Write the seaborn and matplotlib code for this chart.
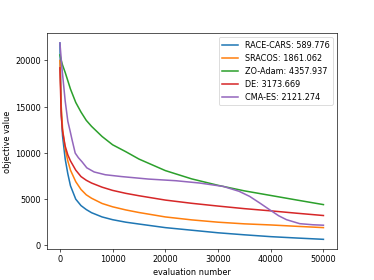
import matplotlib
matplotlib.use("Agg")
import matplotlib.pyplot as plt
import pandas as pd
import seaborn as sns

# shared evaluation grid for the smooth curves
evals = [0, 250, 500, 1000, 1500, 2000, 3000, 4000, 5000, 6000, 8000, 10000,
         12500, 15000, 20000, 25000, 30000, 35000, 40000, 45000, 50000]

race_cars = [21900, 14500, 11800, 9300, 7700, 6400, 4950, 4250, 3820, 3480, 3020, 2720,
             2450, 2250, 1860, 1580, 1300, 1080, 880, 730, 589.776]
sracos = [20000, 15000, 12600, 10400, 9100, 8100, 6850, 6000, 5420, 5050, 4480, 4120,
          3780, 3500, 3020, 2700, 2450, 2270, 2150, 2000, 1861.062]
zo_adam = [20600, 20000, 19500, 18700, 17800, 16900, 15450, 14400, 13500, 12850, 11750, 10850,
           10100, 9300, 8050, 7150, 6450, 5850, 5350, 4850, 4357.937]
de = [19200, 14000, 12300, 10700, 9750, 9100, 8100, 7400, 7000, 6700, 6250, 5900,
      5580, 5320, 4850, 4500, 4200, 3920, 3680, 3420, 3173.669]

# CMA-ES has its own bumpier grid
cma_evals = [0, 380, 690, 1000, 1500, 1950, 2300, 2900, 3500, 4200, 5100, 6500, 8600, 11700,
             16800, 22000, 26500, 31000, 34000, 36000, 38000, 39800, 41500, 43000,
             45500, 48000, 50000]
cma_es = [21900, 19200, 17400, 15600, 13400, 12300, 11400, 9950, 9450, 9000, 8350, 7900, 7600, 7400,
          7130, 6950, 6700, 6330, 5800, 5250, 4500, 3800, 3150, 2720,
          2290, 2170, 2121.274]

series = [
    ("RACE-CARS", evals, race_cars),
    ("SRACOS", evals, sracos),
    ("ZO-Adam", evals, zo_adam),
    ("DE", evals, de),
    ("CMA-ES", cma_evals, cma_es),
]

fig, ax = plt.subplots(figsize=(6.4, 4.8), dpi=374 / 6.4)
for name, xs, ys in series:
    df = pd.DataFrame({"x": xs, "y": ys})
    sns.lineplot(data=df, x="x", y="y", ax=ax, linewidth=1.9,
                 label=f"{name}: {ys[-1]:.3f}")

ax.set_xlabel("evaluation number")
ax.set_ylabel("objective value")
ax.legend(loc="upper right")
plt.savefig("out.png", dpi=374 / 6.4)
